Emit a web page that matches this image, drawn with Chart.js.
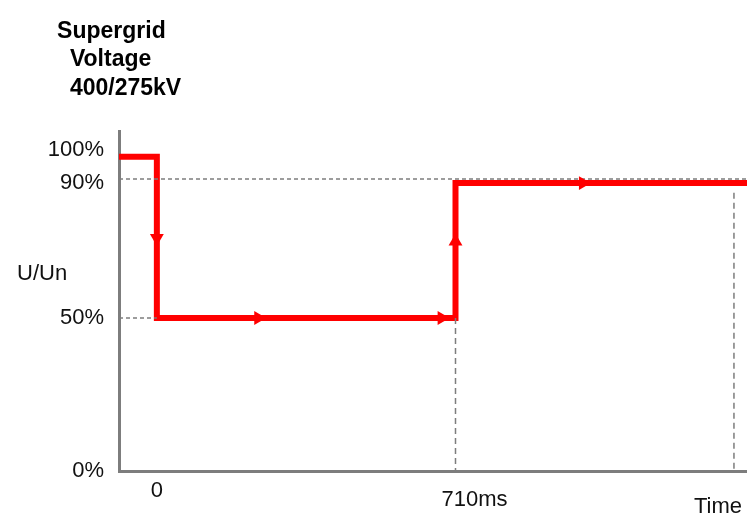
<!DOCTYPE html>
<html><head><meta charset="utf-8">
<script src="https://cdn.jsdelivr.net/npm/chart.js@4"></script>
<style>html,body{margin:0;padding:0;background:#fff}</style>
</head><body>
<canvas id="c" width="747" height="529"></canvas>
<script>
// ---- data ----
const titleLines = ['        Supergrid', '          Voltage', '          400/275kV'];
const yAxisTitle = 'U/Un';
const timeMs = [-90, 0, 0, 710, 710, 1403];
const voltagePct = [97.5, 97.5, 50, 50, 88.8, 88.8];
const arrowTimeMs = [0, 241, 677, 710, 1013];
const arrowPct = [73, 50, 50, 72, 88.8];
const arrowDir = ['down', 'right', 'right', 'up', 'right'];
const yTickValues = [0, 50, 90, 100];
const xTickValues = [0, 710, 1372];
const xTickLabels = ['0', '710ms', 'Time'];
const guide90Ms = [-90, 1403], guide90Pct = [90, 90];
const guide50Ms = [-90, 0], guide50Pct = [50, 50];
const guide710Ms = [710, 710], guide710Pct = [50, 0];
const guideEndMs = [1372, 1372], guideEndPct = [86, 0];

// ---- presentation ----
const RED = '#ff0000', GREY = '#7d7d7d', TXT = '#111111';
const DIR_ROT = {up: 0, right: 90, down: 180, left: 270};
const EXTRA = {
  y: { breaks: [[0, 0], [50, 0.4513], [90, 0.8614], [100, 0.9484], [106, 1]],
       labelShift: [[0, 0], [0, 0], [0, 4], [0, 0]],
       flatTitle: {dx: 11, dy: -28} },
  x: { labelShift: [[0, 0], [19, 9], [-16, 16]] }
};

class SketchScale extends Chart.LinearScale {
  static id = 'sketch';
  static defaults = {};
  getPixelForValue(value) {
    const ex = EXTRA[this.id];
    if (!ex || !ex.breaks) return super.getPixelForValue(value);
    if (value === null || value === undefined || isNaN(value)) return NaN;
    const b = ex.breaks;
    let i = 1;
    while (i < b.length - 1 && value > b[i][0]) i++;
    const d = b[i - 1][1] + (value - b[i - 1][0]) * (b[i][1] - b[i - 1][1]) / (b[i][0] - b[i - 1][0]);
    return this.getPixelForDecimal(d);
  }
  getValueForPixel(pixel) {
    const ex = EXTRA[this.id];
    if (!ex || !ex.breaks) return super.getValueForPixel(pixel);
    const d = this.getDecimalForPixel(pixel);
    const b = ex.breaks;
    let i = 1;
    while (i < b.length - 1 && d > b[i][1]) i++;
    return b[i - 1][0] + (d - b[i - 1][1]) * (b[i][0] - b[i - 1][0]) / (b[i][1] - b[i - 1][1]);
  }
  _computeLabelItems(chartArea) {
    const items = super._computeLabelItems(chartArea);
    const ex = EXTRA[this.id];
    if (ex && ex.labelShift) {
      items.forEach((it, i) => {
        const s = ex.labelShift[i];
        if (s && it.options && it.options.translation) {
          it.options.translation = [it.options.translation[0] + s[0], it.options.translation[1] + s[1]];
        }
      });
    }
    return items;
  }
  drawTitle() {
    const ex = EXTRA[this.id];
    if (!ex || !ex.flatTitle) return super.drawTitle();
    const t = this.options.title;
    if (!t.display) return;
    const font = Chart.helpers.toFont(t.font);
    Chart.helpers.renderText(this.ctx, t.text, this.left + ex.flatTitle.dx,
      (this.top + this.bottom) / 2 + ex.flatTitle.dy, font,
      {color: t.color, textAlign: 'left', textBaseline: 'middle'});
  }
}
Chart.register(SketchScale);

const pts = (xs, ys) => xs.map((x, i) => ({x, y: ys[i]}));
const guide = (xs, ys, dash) => ({
  data: pts(xs, ys), borderColor: GREY, borderWidth: 1.5, borderDash: dash,
  pointRadius: 0, fill: false, tension: 0, borderCapStyle: 'butt'
});

const tickFont = {family: '"Liberation Sans", Arial, sans-serif', size: 22};

new Chart(document.getElementById('c'), {
  type: 'line',
  data: {
    datasets: [
      { type: 'scatter', data: pts(arrowTimeMs, arrowPct), pointStyle: 'triangle',
        pointRadius: 8, pointRotation: arrowDir.map(d => DIR_ROT[d]),
        backgroundColor: RED, borderColor: RED, borderWidth: 0, showLine: false },
      guide(guide90Ms, guide90Pct, [4, 3]),
      guide(guide50Ms, guide50Pct, [4, 3]),
      guide(guide710Ms, guide710Pct, [6, 4]),
      guide(guideEndMs, guideEndPct, [6, 4]),
      { data: pts(timeMs, voltagePct), borderColor: RED, borderWidth: 6,
        borderJoinStyle: 'miter', borderCapStyle: 'butt', pointRadius: 0, fill: false, tension: 0 }
    ]
  },
  options: {
    responsive: false,
    animation: false,
    events: [],
    layout: {autoPadding: false, padding: {left: 6, right: 0, top: 0, bottom: 0}},
    plugins: {
      legend: {display: false},
      tooltip: {enabled: false},
      title: {
        display: true, text: titleLines, align: 'start', color: '#000',
        font: {family: '"Liberation Sans", Arial, sans-serif', size: 23, weight: 'bold', lineHeight: 1.24},
        padding: {top: 17, bottom: 29.4}
      }
    },
    scales: {
      x: {
        type: 'sketch', min: -90, max: 1403,
        grid: {display: false, drawTicks: false},
        border: {display: true, color: GREY, width: 3},
        afterBuildTicks: s => { s.ticks = xTickValues.map(v => ({value: v})); },
        afterFit: s => { s.height = 58; s.paddingLeft = 0; s.paddingRight = 0; },
        ticks: {color: TXT, font: tickFont, padding: 6.5, maxRotation: 0, autoSkip: false,
                callback: (v, i) => xTickLabels[i]}
      },
      y: {
        type: 'sketch', min: 0, max: 106,
        grid: {display: false, drawTicks: false},
        border: {display: true, color: GREY, width: 3},
        title: {display: true, text: yAxisTitle, color: TXT, font: tickFont},
        afterBuildTicks: s => { s.ticks = yTickValues.map(v => ({value: v})); },
        afterFit: s => { s.width = 113; s.paddingTop = 0; s.paddingBottom = 0; },
        ticks: {color: TXT, font: tickFont, padding: 15, autoSkip: false,
                callback: v => v + '%'}
      }
    }
  }
});
</script>
</body></html>
